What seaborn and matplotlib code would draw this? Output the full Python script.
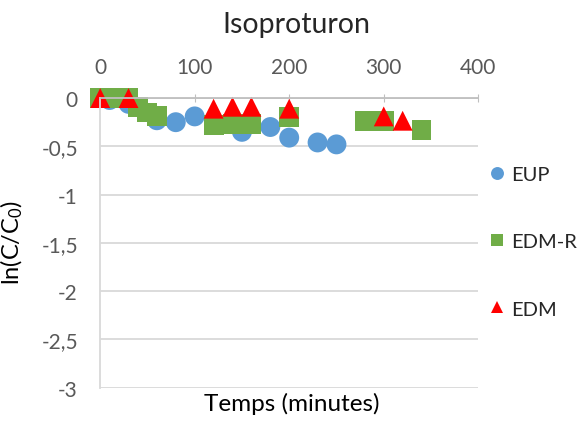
import matplotlib

matplotlib.use("Agg")
import matplotlib.pyplot as plt
import pandas as pd
import seaborn as sns

# values
eup_t = [0, 10, 30, 60, 80, 100, 150, 180, 200, 230, 250]
eup_y = [0.0, -0.02, -0.06, -0.23, -0.25, -0.19, -0.35, -0.30, -0.41, -0.46, -0.48]

edmr_t = [0, 20, 30, 40, 50, 60, 120, 140, 160, 200, 280, 300, 340]
edmr_y = [0.0, 0.0, 0.0, -0.09, -0.15, -0.19, -0.28, -0.27, -0.27, -0.20, -0.24, -0.24, -0.33]

edm_t = [0, 30, 120, 140, 160, 200, 300, 320]
edm_y = [0.0, 0.0, -0.11, -0.09, -0.09, -0.11, -0.19, -0.235]

series_names = ["EUP", "EDM-R", "EDM"]
y_ticks = [0, -0.5, -1, -1.5, -2, -2.5, -3]
y_tick_labels = ["0", "-0,5", "-1", "-1,5", "-2", "-2,5", "-3"]
x_ticks = [0, 100, 200, 300, 400]

df = pd.concat(
    [
        pd.DataFrame({"t": eup_t, "v": eup_y, "serie": "EUP"}),
        pd.DataFrame({"t": edmr_t, "v": edmr_y, "serie": "EDM-R"}),
        pd.DataFrame({"t": edm_t, "v": edm_y, "serie": "EDM"}),
    ],
    ignore_index=True,
)

sns.set_style("white")
plt.rcParams["font.family"] = ["Lato", "DejaVu Sans"]
plt.rcParams["mathtext.fontset"] = "custom"
plt.rcParams["mathtext.rm"] = "Lato"
plt.rcParams["mathtext.it"] = "Lato"

palette = {"EUP": "#5B9BD5", "EDM-R": "#70AD47", "EDM": "#FF0000"}
markers = {"EUP": "o", "EDM-R": "s", "EDM": "^"}

fig = plt.figure(figsize=(5.79, 4.27), dpi=100)
ax = fig.add_axes([0.173, 0.090, 0.653, 0.678])

sns.scatterplot(
    data=df, x="t", y="v", hue="serie", style="serie",
    hue_order=series_names, style_order=series_names,
    palette=palette, markers=markers, s=205, linewidth=0, ax=ax, clip_on=False,
)

ax.set_xlim(0, 400)
ax.set_ylim(-3, 0)
ax.set_yticks(y_ticks)
ax.set_yticklabels(y_tick_labels)
ax.set_xticks(x_ticks)
ax.xaxis.tick_top()
ax.tick_params(axis="x", direction="inout", length=6, color="#bfbfbf", labelsize=15,
               labelcolor="#595959", pad=12)
ax.tick_params(axis="y", length=0, labelsize=15, labelcolor="#595959", pad=16)

ax.yaxis.grid(True, color="#d9d9d9", linewidth=1.3)
ax.set_axisbelow(True)
for side in ["right", "bottom"]:
    ax.spines[side].set_visible(False)
ax.spines["top"].set_color("#bfbfbf")
ax.spines["top"].set_linewidth(1.3)
ax.spines["left"].set_color("#d9d9d9")
ax.spines["left"].set_linewidth(1.3)

ax.set_xlabel("Temps (minutes)", fontsize=17.5, color="black")
ax.xaxis.set_label_position("bottom")
ax.xaxis.set_label_coords(0.507, -0.015)
ax.set_ylabel("ln(C/C$_0$)", fontsize=17, color="black")
ax.yaxis.set_label_coords(-0.198, 0.503)

fig.text(0.512, 0.923, "Isoproturon", fontsize=20.5, ha="center", va="baseline")

ax.legend(
    loc="center left", bbox_to_anchor=(0.845, 0.432), bbox_transform=fig.transFigure,
    frameon=False, fontsize=14.5, labelspacing=2.5, handletextpad=0.3,
    borderpad=0, borderaxespad=0, markerscale=0.65, handlelength=0.8,
)

fig.savefig("out.png", dpi=100)
